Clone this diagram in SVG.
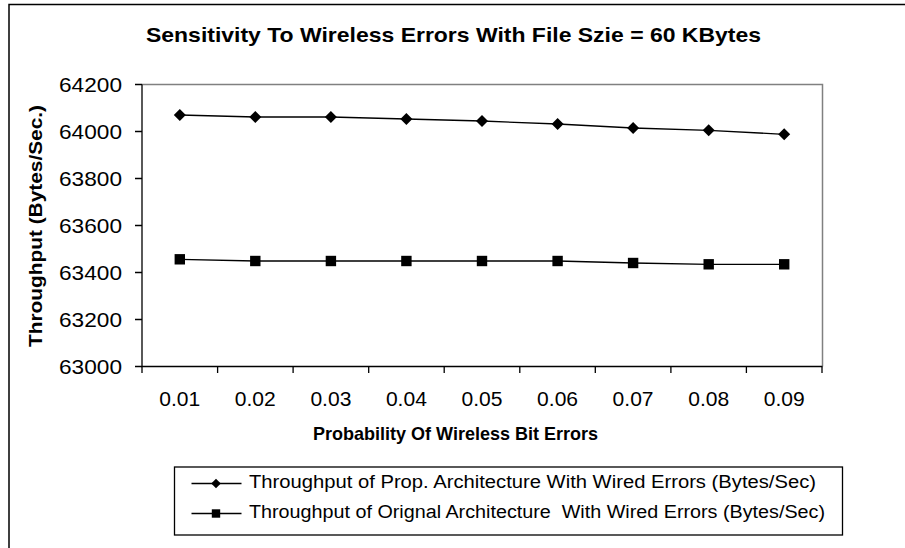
<svg xmlns="http://www.w3.org/2000/svg" width="905" height="548" viewBox="0 0 905 548">
  <style>
    .frame { fill: #ffffff; stroke: #000000; stroke-width: 1.5; }
    .axis { stroke: #000000; stroke-width: 1.3; fill: none; }
    .edge { stroke: #808080; stroke-width: 1.5; fill: none; }
    .series { stroke: #000000; stroke-width: 1.3; fill: none; }
    .mark { fill: #000000; }
    .tick { font-family: "Liberation Sans", Arial, sans-serif; font-size: 20.5px; fill: #000000; }
    .title { font-family: "Liberation Sans", Arial, sans-serif; font-size: 21px; font-weight: bold; fill: #000000; }
    .axlabel { font-family: "Liberation Sans", Arial, sans-serif; font-size: 19px; font-weight: bold; fill: #000000; }
    .legend { font-family: "Liberation Sans", Arial, sans-serif; font-size: 18px; fill: #000000; white-space: pre; }
  </style>
  <defs>
    <path id="diamond" d="M0,-6 L6,0 L0,6 L-6,0 Z"/>
    <rect id="square" x="-5.2" y="-5.2" width="10.4" height="10.4"/>
    <path id="diamondSm" d="M0,-4.8 L4.8,0 L0,4.8 L-4.8,0 Z"/>
    <rect id="squareSm" x="-4.2" y="-4.2" width="8.4" height="8.4"/>
  </defs>

  <!-- chart frame -->
  <rect class="frame" x="9" y="4.5" width="910" height="560"/>

  <!-- title -->
  <text class="title" x="453.5" y="42" text-anchor="middle" textLength="615" lengthAdjust="spacingAndGlyphs">Sensitivity To Wireless Errors With File Szie = 60 KBytes</text>

  <!-- plot area -->
  <g id="plot-area">
    <path class="edge" d="M142,84.5 H822.5 V366.5"/>
    <path class="axis" d="M142,84.5 V366.5 H822.5"/>
    <!-- value axis ticks -->
    <path class="axis" d="M135,84.5 H142 M135,131.5 H142 M135,178.5 H142 M135,225.5 H142 M135,272.5 H142 M135,319.5 H142 M135,366.5 H142"/>
    <!-- category axis ticks -->
    <path class="axis" d="M142,366.5 V373 M217.6,366.5 V373 M293.1,366.5 V373 M368.7,366.5 V373 M444.2,366.5 V373 M519.8,366.5 V373 M595.3,366.5 V373 M670.9,366.5 V373 M746.4,366.5 V373 M822,366.5 V373"/>
  </g>

  <!-- value axis labels -->
  <g id="y-labels" text-anchor="end">
    <text class="tick" x="122" y="92" textLength="63" lengthAdjust="spacingAndGlyphs">64200</text>
    <text class="tick" x="122" y="139" textLength="63" lengthAdjust="spacingAndGlyphs">64000</text>
    <text class="tick" x="122" y="186" textLength="63" lengthAdjust="spacingAndGlyphs">63800</text>
    <text class="tick" x="122" y="233" textLength="63" lengthAdjust="spacingAndGlyphs">63600</text>
    <text class="tick" x="122" y="280" textLength="63" lengthAdjust="spacingAndGlyphs">63400</text>
    <text class="tick" x="122" y="327" textLength="63" lengthAdjust="spacingAndGlyphs">63200</text>
    <text class="tick" x="122" y="374" textLength="63" lengthAdjust="spacingAndGlyphs">63000</text>
  </g>

  <!-- category axis labels -->
  <g id="x-labels" text-anchor="middle">
    <text class="tick" x="179.8" y="406" textLength="41" lengthAdjust="spacingAndGlyphs">0.01</text>
    <text class="tick" x="255.3" y="406" textLength="41" lengthAdjust="spacingAndGlyphs">0.02</text>
    <text class="tick" x="330.9" y="406" textLength="41" lengthAdjust="spacingAndGlyphs">0.03</text>
    <text class="tick" x="406.4" y="406" textLength="41" lengthAdjust="spacingAndGlyphs">0.04</text>
    <text class="tick" x="482" y="406" textLength="41" lengthAdjust="spacingAndGlyphs">0.05</text>
    <text class="tick" x="557.6" y="406" textLength="41" lengthAdjust="spacingAndGlyphs">0.06</text>
    <text class="tick" x="633.1" y="406" textLength="41" lengthAdjust="spacingAndGlyphs">0.07</text>
    <text class="tick" x="708.7" y="406" textLength="41" lengthAdjust="spacingAndGlyphs">0.08</text>
    <text class="tick" x="784.2" y="406" textLength="41" lengthAdjust="spacingAndGlyphs">0.09</text>
  </g>

  <!-- axis titles -->
  <text class="axlabel" x="455.5" y="440" text-anchor="middle" textLength="285" lengthAdjust="spacingAndGlyphs">Probability Of Wireless Bit Errors</text>
  <text class="axlabel" transform="translate(41.5,226) rotate(-90)" text-anchor="middle" textLength="242" lengthAdjust="spacingAndGlyphs">Throughput (Bytes/Sec.)</text>

  <!-- data series -->
  <g id="connectors">
    <polyline class="series" points="179.8,115 255.3,117 330.9,117 406.4,119 482,121 557.6,124 633.1,128 708.7,130.3 784.2,134.3"/>
    <polyline class="series" points="179.8,259.3 255.3,261 330.9,261 406.4,261 482,261 557.6,261 633.1,263 708.7,264.3 784.2,264.3"/>
  </g>
  <g id="series-prop" class="mark">
    <use href="#diamond" x="179.8" y="115"/>
    <use href="#diamond" x="255.3" y="117"/>
    <use href="#diamond" x="330.9" y="117"/>
    <use href="#diamond" x="406.4" y="119"/>
    <use href="#diamond" x="482" y="121"/>
    <use href="#diamond" x="557.6" y="124"/>
    <use href="#diamond" x="633.1" y="128"/>
    <use href="#diamond" x="708.7" y="130.3"/>
    <use href="#diamond" x="784.2" y="134.3"/>
  </g>
  <g id="series-orig" class="mark">
    <use href="#square" x="179.8" y="259.3"/>
    <use href="#square" x="255.3" y="261"/>
    <use href="#square" x="330.9" y="261"/>
    <use href="#square" x="406.4" y="261"/>
    <use href="#square" x="482" y="261"/>
    <use href="#square" x="557.6" y="261"/>
    <use href="#square" x="633.1" y="263"/>
    <use href="#square" x="708.7" y="264.3"/>
    <use href="#square" x="784.2" y="264.3"/>
  </g>

  <!-- legend -->
  <g id="legend">
    <rect x="174.5" y="467" width="668" height="68" fill="#ffffff" stroke="#000000" stroke-width="1.3"/>
    <line class="series" x1="191.5" y1="483.5" x2="241.5" y2="483.5"/>
    <use class="mark" href="#diamondSm" x="216" y="483.5"/>
    <text class="legend" x="249" y="488" textLength="567" lengthAdjust="spacingAndGlyphs">Throughput of Prop. Architecture With Wired Errors (Bytes/Sec)</text>
    <line class="series" x1="191.5" y1="513.5" x2="241.5" y2="513.5"/>
    <use class="mark" href="#squareSm" x="216" y="513.5"/>
    <text class="legend" x="249" y="518" textLength="576" lengthAdjust="spacingAndGlyphs">Throughput of Orignal Architecture  With Wired Errors (Bytes/Sec)</text>
  </g>
</svg>
